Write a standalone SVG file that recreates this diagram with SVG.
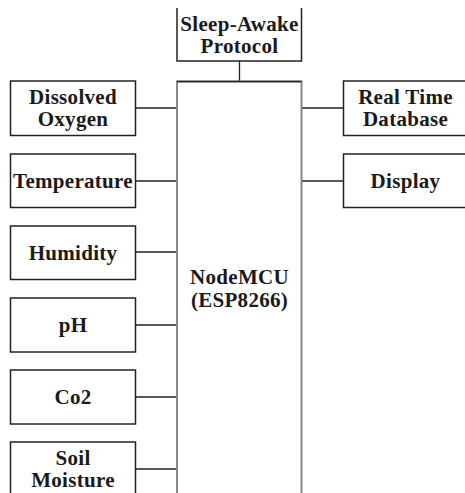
<svg xmlns="http://www.w3.org/2000/svg" width="465" height="493" viewBox="0 0 465 493">
<style>
.box{fill:#fff;stroke:#222;stroke-width:1.5}
.main{fill:#fff;stroke:#888;stroke-width:2}
.edge{stroke:#222;stroke-width:1.5;fill:none}
.conn line{stroke:#222;stroke-width:1.3}
text{font-family:"Liberation Serif","Times New Roman",serif;font-weight:bold;font-size:21px;letter-spacing:0.3px;fill:#1a1a1a;text-anchor:middle}
</style>
<rect width="465" height="493" fill="#fff"/>
<g class="conn">
<line x1="239.5" y1="61" x2="239.5" y2="81"/>
<line x1="135" y1="108" x2="177" y2="108"/>
<line x1="135" y1="181" x2="177" y2="181"/>
<line x1="135" y1="252" x2="177" y2="252"/>
<line x1="135" y1="325" x2="177" y2="325"/>
<line x1="135" y1="397" x2="177" y2="397"/>
<line x1="135" y1="469" x2="177" y2="469"/>
<line x1="301" y1="108" x2="343" y2="108"/>
<line x1="301" y1="181" x2="343" y2="181"/>
</g>
<g id="sleep">
<path class="edge" d="M177 8 V61 H301.5 V8"/>
<text x="239.5" y="31">Sleep-Awake</text>
<text x="239.5" y="53">Protocol</text>
</g>
<g id="nodemcu">
<path class="main" d="M177 494 V81.5 H301.5 V494"/>
<line class="edge" x1="177" y1="81.5" x2="301.5" y2="81.5"/>
<text x="239.5" y="284">NodeMCU</text>
<text x="239.5" y="307">(ESP8266)</text>
</g>
<g id="dissolved">
<rect class="box" x="10.5" y="81" width="125" height="54.5"/>
<text x="73" y="104">Dissolved</text>
<text x="73" y="126">Oxygen</text>
</g>
<g id="temperature">
<rect class="box" x="10.5" y="154" width="125" height="53.5"/>
<text x="73" y="188">Temperature</text>
</g>
<g id="humidity">
<rect class="box" x="10.5" y="226" width="125" height="53.5"/>
<text x="73" y="260">Humidity</text>
</g>
<g id="ph">
<rect class="box" x="10.5" y="298" width="125" height="54"/>
<text x="73" y="332">pH</text>
</g>
<g id="co2">
<rect class="box" x="10.5" y="370" width="125" height="54"/>
<text x="73" y="404">Co2</text>
</g>
<g id="soil">
<path class="edge" d="M10.5 494 V442 H135.5 V494"/>
<text x="73" y="465">Soil</text>
<text x="73" y="487">Moisture</text>
</g>
<g id="realtime">
<path class="edge" d="M466 81 H343.5 V135.5 H466"/>
<text x="405.5" y="104">Real Time</text>
<text x="405.5" y="126">Database</text>
</g>
<g id="display">
<path class="edge" d="M466 154 H343.5 V207.5 H466"/>
<text x="405.5" y="188">Display</text>
</g>
</svg>
